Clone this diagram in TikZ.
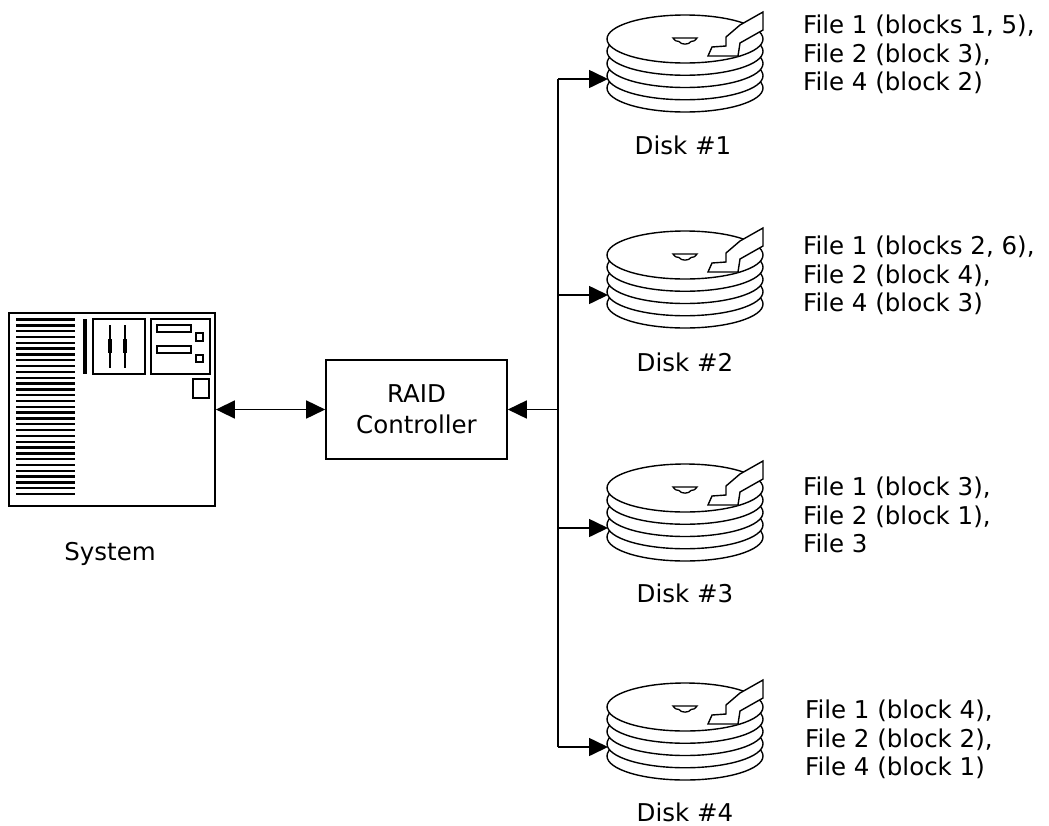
\documentclass[tikz,border=0pt]{standalone}
\usepackage{fontspec}
\setmainfont{DejaVu Sans}
\usetikzlibrary{arrows.meta}
\begin{document}
\begin{tikzpicture}[x=1pt,y=-1pt,
  ln/.style={line width=1.6pt},
  arr/.style={ln,-{Triangle[length=19pt,width=18pt]}},
  dbl/.style={ln,{Triangle[length=19pt,width=18pt]}-{Triangle[length=19pt,width=18pt]}},
  plate/.style={line width=1.4pt,fill=white,draw=black},
  thin/.style={line width=1.5pt},
  lbl/.style={font=\fontsize{24.5}{28.5}\selectfont, inner sep=0pt},
  list/.style={lbl, align=left, anchor=north west},
  hatch/.style={line width=2.4pt},
  hdd/.pic={
    \foreach \dy in {9,-3.25,-15.5,-27.75}{
      \draw[plate] (77,\dy) ellipse[x radius=78pt,y radius=24pt];
    }
    \draw[plate] (77,-40) ellipse[x radius=78pt,y radius=24pt];
    \draw[line width=1.3pt] (65,-41) -- (89,-41) .. controls (87,-38) and (85,-37.5) .. (83,-37.5)
      .. controls (81,-34) and (73,-34) .. (71,-37.5) .. controls (69,-37.5) and (67,-38) .. cycle;
    \draw[plate] (132,-54) -- (155,-67) -- (155,-49) -- (132,-36) -- (130,-23) -- (100,-23)
      -- (104,-32) -- (118,-33) -- (118,-42) -- cycle;
  }
]
\useasboundingbox (0,0) rectangle (1049,825);

% System
\node[draw, line width=1.8pt, minimum width=206pt, minimum height=193pt, inner sep=0pt] (sys) at (112,409.5) {};
\foreach \i in {0,...,30}{
  \draw[hatch] (16,{319.5+\i*5.82}) -- (75,{319.5+\i*5.82});
}
\fill (83,319) rectangle (87,374);
\draw[thin] (93,319) rectangle (145,374);
\draw[thin] (110,325) -- (110,368);
\draw[thin] (125,325) -- (125,368);
\fill (108,339) rectangle (112,353);
\fill (123,339) rectangle (127,353);
\draw[thin] (151,319) rectangle (210,374);
\draw[thin] (157,325) rectangle (191,332);
\draw[thin] (157,346) rectangle (191,353);
\draw[thin] (196,333) rectangle (203,341);
\draw[thin] (196,355) rectangle (203,362);
\draw[thin] (193,379) rectangle (209,398);
\node[lbl, anchor=base] (syslbl) at (110,560) {System};

% RAID controller
\node[draw, ln, minimum width=181pt, minimum height=99pt, align=center,
      font=\fontsize{24.5}{31}\selectfont, inner sep=0pt] (raid) at (416.5,409.5) {RAID\\Controller};

% bus coordinates
\coordinate (bm) at (558,409.5);
\coordinate (b1) at (558,79);
\coordinate (b2) at (558,295);
\coordinate (b3) at (558,528);
\coordinate (b4) at (558,747);
\coordinate (t1) at (608,79);
\coordinate (t2) at (608,295);
\coordinate (t3) at (608,528);
\coordinate (t4) at (608,747);

% disks
\pic at (t1) {hdd};
\pic at (t2) {hdd};
\pic at (t3) {hdd};
\pic at (t4) {hdd};

% connectors
\draw[dbl] (sys.east) -- (raid.west);
\draw[arr] (bm) -- (raid.east);
\draw[ln] (b1) -- (b4);
\draw[arr] (b1) -- (t1);
\draw[arr] (b2) -- (t2);
\draw[arr] (b3) -- (t3);
\draw[arr] (b4) -- (t4);

% disk labels
\node[lbl, anchor=base] (l1) at (683,154) {Disk \#1};
\node[lbl, anchor=base] (l2) at (685,371) {Disk \#2};
\node[lbl, anchor=base] (l3) at (685,602) {Disk \#3};
\node[lbl, anchor=base] (l4) at (685,821) {Disk \#4};

% file lists
\node[list] (f1) at (803,15) {File 1 (blocks 1, 5),\\File 2 (block 3),\\File 4 (block 2)};
\node[list] (f2) at (803,236) {File 1 (blocks 2, 6),\\File 2 (block 4),\\File 4 (block 3)};
\node[list] (f3) at (803,477) {File 1 (block 3),\\File 2 (block 1),\\File 3};
\node[list] (f4) at (805,700) {File 1 (block 4),\\File 2 (block 2),\\File 4 (block 1)};
\end{tikzpicture}
\end{document}
